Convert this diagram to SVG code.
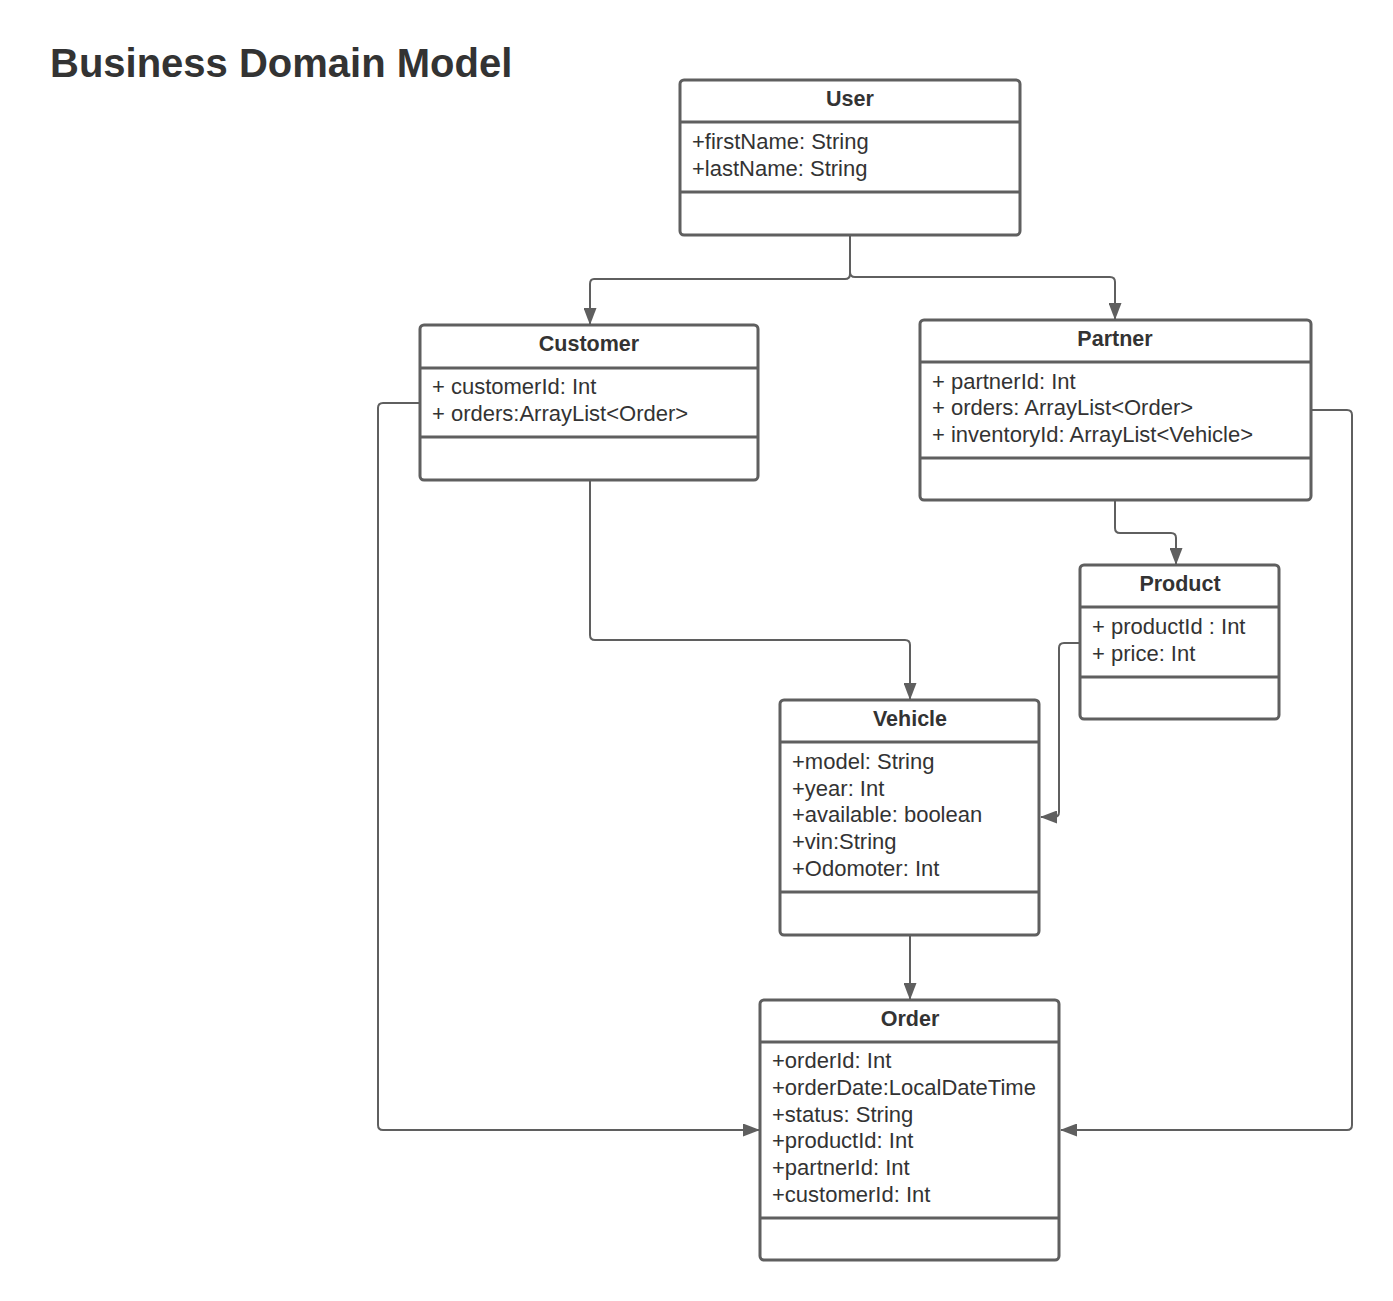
<svg xmlns="http://www.w3.org/2000/svg" width="1393" height="1301" viewBox="0 0 1393 1301">
<style>
.box{fill:#fff;stroke:#5f5f5f;stroke-width:3}
.div{stroke:#5f5f5f;stroke-width:3}
.name{font-family:"Liberation Sans",Arial,sans-serif;font-weight:bold;font-size:21.5px;fill:#333;text-anchor:middle}
.attr{font-family:"Liberation Sans",Arial,sans-serif;font-size:22px;fill:#333}
.title{font-family:"Liberation Sans",Arial,sans-serif;font-weight:bold;font-size:40px;fill:#333}
.edge{fill:none;stroke:#5f5f5f;stroke-width:2;marker-end:url(#arr)}
</style>
<defs>
<marker id="arr" markerWidth="17" markerHeight="13" refX="16" refY="6.5" orient="auto" markerUnits="userSpaceOnUse">
<path d="M0,0 L17,6.5 L0,13 Z" fill="#5f5f5f"/>
</marker>
</defs>
<rect width="1393" height="1301" fill="#fff"/>
<text class="title" x="50" y="77">Business Domain Model</text>

<g id="connectors">
<path class="edge" d="M850,236 V274 Q850,279 845,279 H594 Q590,279 590,284 V324"/>
<path class="edge" d="M850,236 V272 Q850,277 855,277 H1110 Q1115,277 1115,282 V319"/>
<path class="edge" d="M1115,501 V528 Q1115,533 1120,533 H1171 Q1176,533 1176,538 V564"/>
<path class="edge" d="M1311,410 H1347 Q1352,410 1352,415 V1125 Q1352,1130 1347,1130 H1061"/>
<path class="edge" d="M1080,643 H1064 Q1059,643 1059,648 V812 Q1059,817 1054,817 H1041"/>
<path class="edge" d="M590,481 V635 Q590,640 595,640 H905 Q910,640 910,645 V699"/>
<path class="edge" d="M910,936 V999"/>
<path class="edge" d="M420,403 H383 Q378,403 378,408 V1125 Q378,1130 383,1130 H759"/>
</g>

<g id="user">
<rect class="box" x="680" y="80" width="340" height="155" rx="4"/>
<line class="div" x1="680" y1="122" x2="1020" y2="122"/>
<line class="div" x1="680" y1="192" x2="1020" y2="192"/>
<text class="name" x="850" y="106">User</text>
<text class="attr" x="692" y="149">+firstName: String</text>
<text class="attr" x="692" y="176">+lastName: String</text>
</g>

<g id="customer">
<rect class="box" x="420" y="325" width="338" height="155" rx="4"/>
<line class="div" x1="420" y1="368" x2="758" y2="368"/>
<line class="div" x1="420" y1="437" x2="758" y2="437"/>
<text class="name" x="589" y="351">Customer</text>
<text class="attr" x="432" y="394">+ customerId: Int</text>
<text class="attr" x="432" y="421">+ orders:ArrayList&lt;Order&gt;</text>
</g>

<g id="partner">
<rect class="box" x="920" y="320" width="391" height="180" rx="4"/>
<line class="div" x1="920" y1="362" x2="1311" y2="362"/>
<line class="div" x1="920" y1="458" x2="1311" y2="458"/>
<text class="name" x="1115" y="346">Partner</text>
<text class="attr" x="932" y="389">+ partnerId: Int</text>
<text class="attr" x="932" y="415">+ orders: ArrayList&lt;Order&gt;</text>
<text class="attr" x="932" y="442">+ inventoryId: ArrayList&lt;Vehicle&gt;</text>
</g>

<g id="product">
<rect class="box" x="1080" y="565" width="199" height="154" rx="4"/>
<line class="div" x1="1080" y1="607" x2="1279" y2="607"/>
<line class="div" x1="1080" y1="677" x2="1279" y2="677"/>
<text class="name" x="1180" y="591">Product</text>
<text class="attr" x="1092" y="634">+ productId : Int</text>
<text class="attr" x="1092" y="661">+ price: Int</text>
</g>

<g id="vehicle">
<rect class="box" x="780" y="700" width="259" height="235" rx="4"/>
<line class="div" x1="780" y1="742" x2="1039" y2="742"/>
<line class="div" x1="780" y1="892" x2="1039" y2="892"/>
<text class="name" x="910" y="726">Vehicle</text>
<text class="attr" x="792" y="769">+model: String</text>
<text class="attr" x="792" y="796">+year: Int</text>
<text class="attr" x="792" y="822">+available: boolean</text>
<text class="attr" x="792" y="849">+vin:String</text>
<text class="attr" x="792" y="876">+Odomoter: Int</text>
</g>

<g id="order">
<rect class="box" x="760" y="1000" width="299" height="260" rx="4"/>
<line class="div" x1="760" y1="1042" x2="1059" y2="1042"/>
<line class="div" x1="760" y1="1218" x2="1059" y2="1218"/>
<text class="name" x="910" y="1026">Order</text>
<text class="attr" x="772" y="1068">+orderId: Int</text>
<text class="attr" x="772" y="1095">+orderDate:LocalDateTime</text>
<text class="attr" x="772" y="1122">+status: String</text>
<text class="attr" x="772" y="1148">+productId: Int</text>
<text class="attr" x="772" y="1175">+partnerId: Int</text>
<text class="attr" x="772" y="1202">+customerId: Int</text>
</g>
</svg>
